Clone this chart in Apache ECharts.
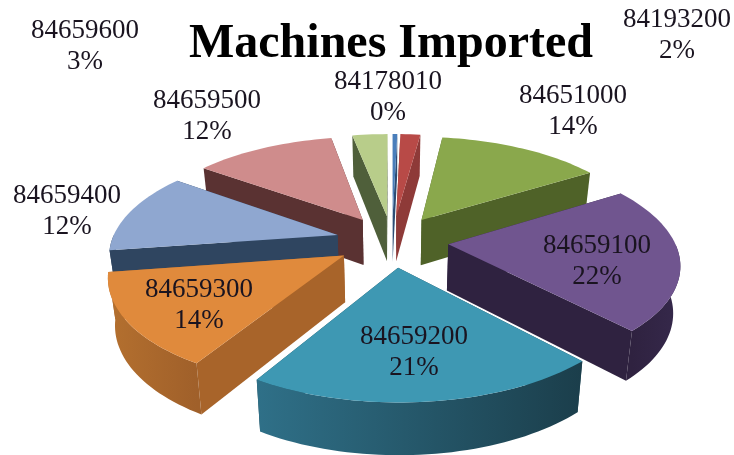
<!DOCTYPE html>
<html>
<head>
<meta charset="utf-8">
<style>html,body{margin:0;padding:0;background:#fff}#c{width:734px;height:455px}</style>
<script src="https://cdn.jsdelivr.net/npm/echarts@6/dist/echarts.min.js"></script>
</head>
<body>
<div id="c"></div>
<script>
const chartTitle = 'Machines Imported';
const categories = ['84178010','84193200','84651000','84659100','84659200','84659300','84659400','84659500','84659600'];
const values = [0.4, 1.7, 14, 22, 20.6, 14, 12.4, 12, 3];
const topColors = ['#4a7ebb','#b84a47','#8aa84c','#70558f','#3e98b3','#e08a3c','#8fa7d0','#cf8c8c','#b8cd8a'];
const sideColors = ['#2c4d75','#8e3a38','#4f6228','#2f2240','#1e4a58','#a8642a','#2f4560','#5a3232','#4f5f3a'];
const rimLeft = ['#2c4d75','#8e3a38','#4f6228','#2f2240','#2f7088','#b4702f','#2f4560','#5a3232','#4f5f3a'];
const rimRight = ['#2c4d75','#8e3a38','#4f6228','#35284a','#1b3e4b','#a0602a','#2f4560','#5a3232','#4f5f3a'];
const labelCentres = [[388,97],[677,35],[573,111],[597,261],[414,352],[199,305],[67,211],[207,116],[85,46]];

const view = {cx: 392, cy: 241, rx: 226, ry: 103, k: 0.163, explode: 0.25, depth: 46, floorShrink: 0.975};
const total = values.reduce((a, b) => a + b, 0);
const slices = [];
let run = 0;
values.forEach((v, i) => {
  const a0 = run / total * 2 * Math.PI;
  run += v;
  const a1 = run / total * 2 * Math.PI;
  slices.push({i, a0, a1, mid: (a0 + a1) / 2});
});
const drawOrder = slices.slice().sort((p, q) => Math.cos(q.mid) - Math.cos(p.mid)).map(s => s.i);

function project(X, Y, low) {
  const s = 1 / (1 + view.k * Y);
  const px = view.cx + view.rx * X * s, py = view.cy - view.ry * Y * s;
  if (!low) return [px, py];
  return [view.cx + (px - view.cx) * view.floorShrink, py + view.depth * Math.pow(s, 0.6)];
}
function rimPoint(sl, a, low) {
  return project(Math.sin(a) + view.explode * Math.sin(sl.mid), Math.cos(a) + view.explode * Math.cos(sl.mid), low);
}
function arcPoints(sl, from, to, low) {
  const n = Math.max(2, Math.ceil((to - from) / 0.03));
  const pts = [];
  for (let j = 0; j <= n; j++) pts.push(rimPoint(sl, from + (to - from) * j / n, low));
  return pts;
}
function renderSlice(params, api) {
  const idx = api.value(0);
  const sl = slices[idx];
  const ex = view.explode * Math.sin(sl.mid), ec = view.explode * Math.cos(sl.mid);
  const apex = project(ex, ec, false), apexLow = project(ex, ec, true);
  const walls = [];
  [sl.a0, sl.a1].forEach(a => {
    walls.push({y: ec + Math.cos(a) / 2, pts: [apex, rimPoint(sl, a, false), rimPoint(sl, a, true), apexLow], fill: sideColors[idx]});
  });
  const frontFrom = Math.max(sl.a0, Math.PI / 2), frontTo = Math.min(sl.a1, 3 * Math.PI / 2);
  if (frontTo > frontFrom) {
    const up = arcPoints(sl, frontFrom, frontTo, false);
    const low = arcPoints(sl, frontFrom, frontTo, true).reverse();
    walls.push({
      y: ec + Math.cos((frontFrom + frontTo) / 2),
      pts: up.concat(low),
      fill: {type: 'linear', global: true, x: up[up.length - 1][0], y: 0, x2: up[0][0], y2: 0,
        colorStops: [{offset: 0, color: rimLeft[idx]}, {offset: 1, color: rimRight[idx]}]}
    });
  }
  walls.sort((p, q) => q.y - p.y);
  const children = walls.map(w => ({type: 'polygon', shape: {points: w.pts}, style: {fill: w.fill}}));
  children.push({type: 'polygon', shape: {points: [apex].concat(arcPoints(sl, sl.a0, sl.a1, false))}, style: {fill: topColors[idx]}});
  return {type: 'group', children};
}
function renderLabel(params, api) {
  const idx = api.value(0);
  const c = labelCentres[idx];
  return {type: 'text', style: {
    x: c[0], y: c[1], align: 'center', verticalAlign: 'middle',
    text: categories[idx] + '\n' + Math.round(values[idx] / total * 100) + '%',
    font: '27px "Liberation Serif"', lineHeight: 31, fill: '#1a1420'
  }};
}
const chart = echarts.init(document.getElementById('c'), null, {renderer: 'canvas'});
chart.setOption({
  animation: false,
  backgroundColor: '#fff',
  title: {text: chartTitle, left: 184, top: 16, itemGap: 0,
    textStyle: {fontFamily: 'Liberation Serif', fontWeight: 'bold', fontSize: 48, color: '#000'}},
  series: [
    {type: 'custom', coordinateSystem: 'none', renderItem: renderSlice, silent: true, z: 2,
      data: drawOrder.map(i => [i, values[i]])},
    {type: 'custom', coordinateSystem: 'none', renderItem: renderLabel, silent: true, z: 3,
      data: categories.map((c, i) => [i, values[i]])}
  ]
});
</script>
</body>
</html>
